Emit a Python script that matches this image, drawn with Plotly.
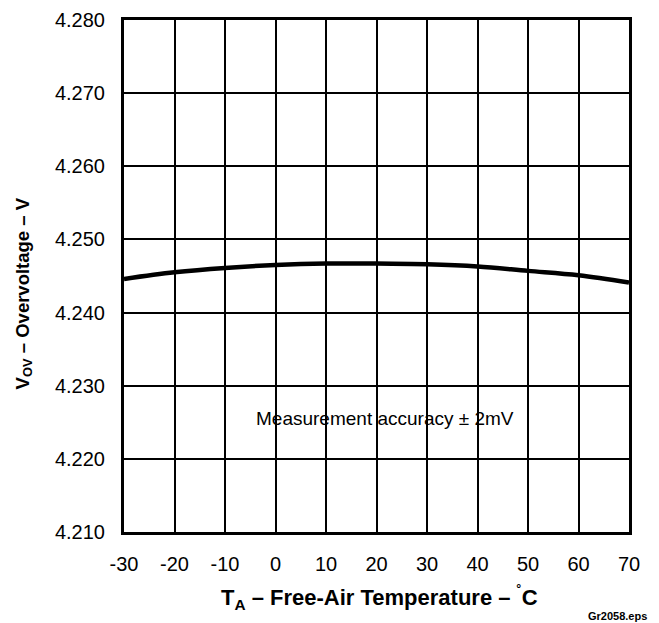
import plotly.graph_objects as go

temps = [-30, -20, -10, 0, 10, 20, 30, 40, 50, 60, 70]
vov = [4.2446, 4.2455, 4.2461, 4.2465, 4.2467, 4.2467, 4.2466, 4.2463, 4.2457, 4.2451, 4.2441]
x_ticks = [-30, -20, -10, 0, 10, 20, 30, 40, 50, 60, 70]
x_labels = ["-30", "-20", "-10", "0", "10", "20", "30", "40", "50", "60", "70"]
y_ticks = [4.210, 4.220, 4.230, 4.240, 4.250, 4.260, 4.270, 4.280]
y_labels = ["4.210", "4.220", "4.230", "4.240", "4.250", "4.260", "4.270", "4.280"]

font = "Liberation Sans, Arial, Helvetica, sans-serif"

fig = go.Figure()
fig.add_trace(go.Scatter(x=temps, y=vov, mode="lines", line=dict(color="black", width=4.5, shape="spline"),
                         showlegend=False, hoverinfo="skip"))

fig.update_layout(
    width=651, height=615,
    margin=dict(l=116, r=30, t=12, b=91),
    paper_bgcolor="white", plot_bgcolor="white",
    font=dict(family=font, color="black", size=20),
    xaxis=dict(range=[-30, 70], tickvals=x_ticks, ticktext=x_labels, ticks="", showgrid=True,
               gridcolor="black", gridwidth=1.6, automargin=False,
               showline=True, linecolor="black", linewidth=3, mirror=True, zeroline=False,
               tickfont=dict(size=20), ticklabelstandoff=12),
    yaxis=dict(range=[4.210, 4.280], tickvals=y_ticks, ticktext=y_labels, ticks="", showgrid=True,
               gridcolor="black", gridwidth=1.6, showline=True, linecolor="black", linewidth=3, mirror=True,
               automargin=False,
               zeroline=False, tickfont=dict(size=20), ticklabelstandoff=12),
    annotations=[
        dict(x=21.6, y=4.2255, xref="x", yref="y", text="Measurement accuracy ± 2mV", showarrow=False,
             font=dict(size=19)),
        dict(x=0.505, y=-0.128, xref="paper", yref="paper", yanchor="middle",
             text="<b>T<sub>A</sub> – Free-Air Temperature – <sup>˚</sup>C</b>", showarrow=False,
             font=dict(size=22)),
        dict(x=-0.198, y=0.466, xref="paper", yref="paper", xanchor="center", yanchor="middle",
             text="<b>V<sub>OV</sub> – Overvoltage – V</b>", showarrow=False, textangle=-90,
             font=dict(size=18.5)),
        dict(x=1.04, y=-0.148, xref="paper", yref="paper", xanchor="right", yanchor="top",
             text="<b>Gr2058.eps</b>", showarrow=False, font=dict(size=11)),
    ],
)

fig.write_html("out.html")
